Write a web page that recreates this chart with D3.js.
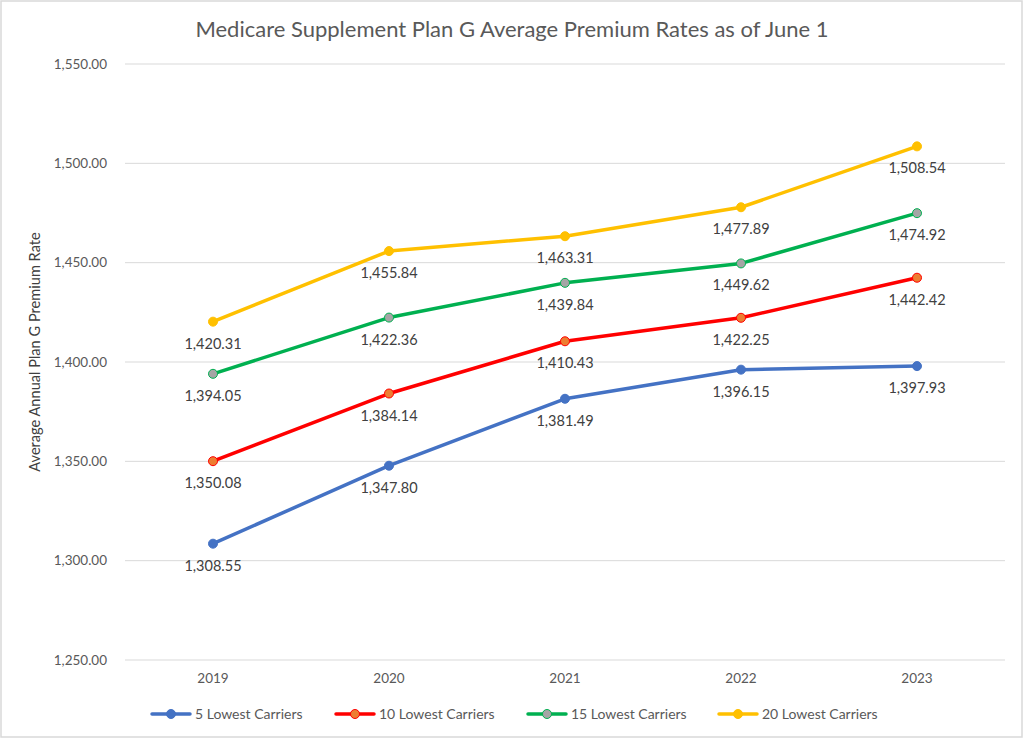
<!DOCTYPE html>
<html><head><meta charset="utf-8">
<script src="https://cdn.jsdelivr.net/npm/d3@7"></script>
<style>body{margin:0;background:#fff}svg{display:block}</style>
</head><body><svg id="c" width="1024" height="740"></svg>
<script>
const years = ["2019","2020","2021","2022","2023"];
const seriesNames = ["5 Lowest Carriers","10 Lowest Carriers","15 Lowest Carriers","20 Lowest Carriers"];
const lowest5  = [1308.55,1347.80,1381.49,1396.15,1397.93];
const lowest10 = [1350.08,1384.14,1410.43,1422.25,1442.42];
const lowest15 = [1394.05,1422.36,1439.84,1449.62,1474.92];
const lowest20 = [1420.31,1455.84,1463.31,1477.89,1508.54];
const yTicks = [1250,1300,1350,1400,1450,1500,1550];

const seriesValues = [lowest5, lowest10, lowest15, lowest20];
const lineColors = ["#4472C4","#FF0000","#00B050","#FFC000"];
const markerFill = ["#4472C4","#ED7D31","#A5A5A5","#FFC000"];

const svg = d3.select("#c");
const font = "Lato, 'Open Sans', sans-serif";
svg.append("rect").attr("x",1).attr("y",1).attr("width",1021).attr("height",736)
  .attr("fill","#fff").attr("stroke","#d9d9d9").attr("stroke-width",1.5);

const x = d3.scaleBand().domain(years).range([125,1005]);
const y = d3.scaleLinear().domain([1250,1550]).range([660,64]);
const fmt = d3.format(",.2f");

svg.append("g").selectAll("line").data(yTicks).join("line")
  .attr("x1",125).attr("x2",1005).attr("y1",d=>y(d)).attr("y2",d=>y(d))
  .attr("stroke","#d9d9d9").attr("stroke-width",1);

const yAxis = d3.axisLeft(y).tickValues(yTicks).tickFormat(fmt).tickSize(0).tickPadding(0);
const ga = svg.append("g").attr("transform","translate(107,0)").call(yAxis);
ga.select(".domain").remove();
ga.selectAll("text").attr("font-family",font).attr("font-size",13.5).attr("fill","#595959");

const xAxis = d3.axisBottom(x).tickSize(0).tickPadding(0);
const gx = svg.append("g").attr("transform","translate(0,673)").call(xAxis);
gx.select(".domain").remove();
gx.selectAll("text").attr("font-family",font).attr("font-size",13.5).attr("fill","#595959").attr("dy","0.71em");

const cx = d=>x(d)+x.bandwidth()/2;
const line = d3.line().x((d,i)=>cx(years[i])).y(d=>y(d));

seriesValues.forEach((vals,s)=>{
  svg.append("path").datum(vals).attr("d",line).attr("fill","none")
    .attr("stroke",lineColors[s]).attr("stroke-width",3.5).attr("stroke-linejoin","round").attr("stroke-linecap","round");
  svg.append("g").selectAll("circle").data(vals).join("circle")
    .attr("cx",(d,i)=>cx(years[i])).attr("cy",d=>y(d)).attr("r",4.5)
    .attr("fill",markerFill[s]).attr("stroke",lineColors[s]).attr("stroke-width",1);
  svg.append("g").selectAll("text").data(vals).join("text")
    .attr("x",(d,i)=>cx(years[i])).attr("y",d=>y(d)+27)
    .attr("text-anchor","middle").attr("font-family",font).attr("font-size",14.5).attr("fill","#404040")
    .text(d=>fmt(d));
});

svg.append("text").attr("x",512).attr("y",37).attr("text-anchor","middle")
  .attr("font-family",font).attr("font-size",22).attr("fill","#595959")
  .text("Medicare Supplement Plan G Average Premium Rates as of June 1");

svg.append("text").attr("transform","translate(40,352) rotate(-90)").attr("text-anchor","middle")
  .attr("font-family",font).attr("font-size",14.6).attr("fill","#404040")
  .text("Average Annual Plan G Premium Rate");

const legX = [152,336,528,719];
const lg = svg.append("g");
seriesNames.forEach((n,s)=>{
  const g = lg.append("g").attr("transform",`translate(${legX[s]},714)`);
  g.append("line").attr("x1",0).attr("x2",38).attr("y1",0).attr("y2",0)
    .attr("stroke",lineColors[s]).attr("stroke-width",3.5).attr("stroke-linecap","round");
  g.append("circle").attr("cx",19).attr("cy",0).attr("r",4.5)
    .attr("fill",markerFill[s]).attr("stroke",lineColors[s]).attr("stroke-width",1);
  g.append("text").attr("x",43).attr("y",0).attr("dy","0.35em")
    .attr("font-family",font).attr("font-size",14).attr("fill","#595959").text(n);
});
</script></body></html>
